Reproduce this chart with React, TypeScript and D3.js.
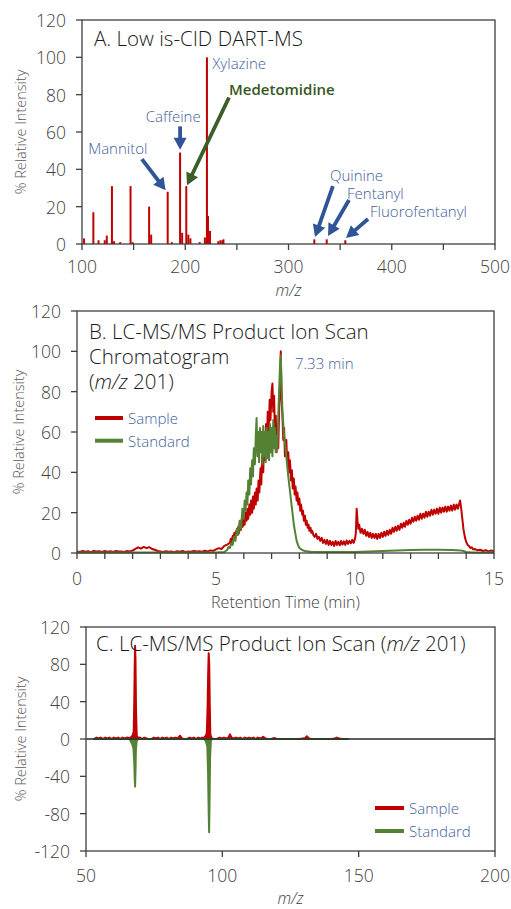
import React from 'react';
import * as d3 from 'd3';

const FONT = "'Open Sans', Lato, sans-serif";
const RED = '#C00000';
const GREEN = '#548235';
const BLUE_TXT = '#41609A';
const BLUE_ARR = '#2F5597';
const GREEN_TXT = '#375623';
const GREEN_ARR = '#3B5E29';
const AXIS = '#404040';

// ---------- Panel A: DART-MS spectrum ----------
const specMz = [102, 111, 116, 122, 124, 129, 131, 137, 147, 149, 165, 167, 183, 187, 195, 197, 201, 203, 205, 214, 219, 221, 222, 224, 232, 234, 236, 237, 325, 337, 355];
const specInt = [3, 17, 2, 2, 4.5, 31, 1.5, 1, 31, 1, 20, 5, 28, 1, 49, 6, 31, 5, 3, 1, 3.5, 100, 15, 7, 1.5, 2, 2, 2.5, 2.5, 2.5, 2];
const specXTicks = [100, 200, 300, 400, 500];
const specXMinor = [150, 250, 350, 450];
const intTicks = [0, 20, 40, 60, 80, 100, 120];

const annText = ['Xylazine', 'Caffeine', 'Mannitol', 'Medetomidine', 'Quinine', 'Fentanyl', 'Fluorofentanyl'];
const annTx = [226.2, 161.7, 106, 242.4, 340.2, 356.7, 379];
const annTy = [97.1, 68.7, 51.4, 83, 37, 27.5, 17.8];
const annFromX = [null, 195, 158, 242.4, 343, 358.6, 377];
const annFromY = [null, 63, 45.5, 78.5, 31, 23.6, 13.4];
const annToX = [null, 195, 181, 201.7, 325.7, 338.3, 355.7];
const annToY = [null, 50.5, 28.8, 31.5, 3.8, 4.3, 3.2];
const annGreen = [false, false, false, true, false, false, false];

// ---------- Panel B: chromatogram ----------
const chromSample: [number, number][] = [
  [0, 0.8], [0.1, 0.5], [0.2, 1.0], [0.3, 0.6], [0.4, 0.9], [0.5, 0.4], [0.6, 1.1], [0.7, 0.7], [0.8, 0.9], [0.9, 0.5],
  [1.0, 1.0], [1.1, 0.6], [1.2, 0.9], [1.3, 0.5], [1.4, 1.0], [1.5, 0.7], [1.6, 0.8], [1.7, 0.5], [1.8, 1.0], [1.9, 0.8],
  [2.0, 1.2], [2.1, 2.0], [2.2, 2.8], [2.3, 2.2], [2.4, 3.0], [2.5, 2.4], [2.6, 2.9], [2.7, 2.0], [2.8, 1.6], [2.9, 1.0],
  [3.0, 0.8], [3.1, 0.5], [3.2, 0.9], [3.3, 0.6], [3.4, 0.8], [3.5, 0.4], [3.6, 0.9], [3.7, 0.6], [3.8, 1.0], [3.9, 0.5],
  [4.0, 0.8], [4.1, 0.6], [4.2, 1.0], [4.3, 0.7], [4.4, 0.9], [4.5, 0.6], [4.6, 1.1], [4.7, 0.8], [4.8, 1.3], [4.9, 1.0],
  [5.0, 1.8], [5.1, 2.4], [5.2, 2.0], [5.3, 3.5], [5.4, 4.2], [5.5, 5], [5.53, 7], [5.56, 5.5], [5.6, 8.5], [5.63, 6.5],
  [5.66, 10], [5.7, 7.5], [5.73, 11], [5.76, 9], [5.8, 13], [5.83, 10], [5.86, 15], [5.9, 11.5], [5.93, 17], [5.96, 13],
  [6.0, 18], [6.03, 14], [6.06, 20], [6.1, 16], [6.13, 22], [6.16, 17], [6.2, 24], [6.23, 19], [6.26, 26], [6.3, 20],
  [6.33, 28], [6.36, 22], [6.4, 30], [6.43, 24], [6.46, 32], [6.5, 26], [6.53, 36], [6.56, 30], [6.6, 42], [6.63, 34],
  [6.66, 48], [6.7, 40], [6.73, 56], [6.76, 46], [6.8, 64], [6.83, 54], [6.86, 70], [6.9, 60], [6.93, 76], [6.96, 66],
  [7.0, 80], [7.03, 84], [7.06, 70], [7.09, 78], [7.12, 58], [7.15, 68], [7.18, 50], [7.21, 62], [7.24, 52], [7.27, 70],
  [7.3, 82], [7.33, 100], [7.36, 76], [7.39, 68], [7.42, 56], [7.45, 62], [7.48, 48], [7.5, 50], [7.53, 56], [7.56, 44],
  [7.6, 50], [7.63, 40], [7.66, 46], [7.7, 36], [7.73, 41], [7.76, 32], [7.8, 37], [7.83, 29], [7.86, 33], [7.9, 26],
  [7.93, 30], [7.96, 24], [8.0, 27], [8.03, 21], [8.06, 24], [8.1, 19], [8.13, 21], [8.16, 16], [8.2, 18.5], [8.23, 14],
  [8.26, 16], [8.3, 12.5], [8.33, 14], [8.36, 11], [8.4, 12.5], [8.43, 10], [8.46, 11], [8.5, 9], [8.55, 8], [8.6, 9.5],
  [8.65, 7], [8.7, 8], [8.75, 6], [8.8, 7.5], [8.85, 5], [8.9, 6.5], [8.95, 4.5], [9.0, 6.5], [9.05, 4], [9.1, 6],
  [9.15, 4], [9.2, 5.5], [9.25, 3.5], [9.3, 6], [9.35, 4], [9.4, 5.5], [9.45, 3.8], [9.5, 6], [9.55, 4.2], [9.6, 5.8],
  [9.65, 4], [9.7, 6.2], [9.75, 4.5], [9.8, 6], [9.85, 4.8], [9.9, 6.5], [9.95, 5], [10.0, 7], [10.03, 10], [10.06, 22],
  [10.09, 16], [10.12, 12], [10.15, 14], [10.2, 10], [10.25, 12], [10.3, 9.5], [10.35, 11.5], [10.4, 8.5], [10.45, 10.5], [10.5, 8],
  [10.55, 10], [10.6, 7.5], [10.65, 9.5], [10.7, 7.5], [10.75, 9.5], [10.8, 7], [10.85, 9.5], [10.9, 7.5], [10.95, 10], [11.0, 8],
  [11.05, 10.5], [11.1, 8.5], [11.15, 11], [11.2, 9], [11.25, 11.5], [11.3, 9.5], [11.35, 12.5], [11.4, 10.5], [11.45, 13], [11.5, 11],
  [11.55, 13.5], [11.6, 11.5], [11.65, 14.5], [11.7, 12.5], [11.75, 15], [11.8, 13], [11.85, 16], [11.9, 14], [11.95, 16.5], [12.0, 14.5],
  [12.05, 17.5], [12.1, 15.5], [12.15, 18], [12.2, 16], [12.25, 18.5], [12.3, 16.5], [12.35, 19.5], [12.4, 17], [12.45, 19.5], [12.5, 17.5],
  [12.55, 20.5], [12.6, 18], [12.65, 20.5], [12.7, 18.5], [12.75, 21.5], [12.8, 19], [12.85, 21.5], [12.9, 19.5], [12.95, 22], [13.0, 19.5],
  [13.05, 22.5], [13.1, 20], [13.15, 22.5], [13.2, 20.5], [13.25, 23], [13.3, 20.5], [13.35, 23], [13.4, 21], [13.45, 23.5], [13.5, 21],
  [13.55, 24], [13.6, 21.5], [13.65, 24], [13.7, 22], [13.75, 24.5], [13.78, 26], [13.82, 22], [13.86, 17], [13.9, 12], [13.95, 8],
  [14.0, 5.5], [14.05, 4], [14.1, 3.5], [14.15, 2.5], [14.2, 2.8], [14.25, 1.8], [14.3, 2], [14.4, 1.4], [14.5, 1.6], [14.6, 1],
  [14.7, 1.4], [14.8, 0.8], [14.9, 1.2], [15, 0.8],
];
const chromStandard: [number, number][] = [
  [0, 0.3], [1, 0.3], [2, 0.2], [3, 0.3], [4, 0.2], [5, 0.3], [5.3, 0.5], [5.4, 1.5], [5.45, 3], [5.5, 2.5],
  [5.55, 5], [5.6, 4], [5.65, 8], [5.7, 6], [5.75, 12], [5.8, 9], [5.85, 16], [5.9, 12], [5.95, 22], [6.0, 17],
  [6.03, 26], [6.06, 21], [6.1, 30], [6.13, 24], [6.16, 36], [6.2, 29], [6.23, 42], [6.26, 34], [6.3, 46], [6.33, 38],
  [6.36, 52], [6.4, 44], [6.43, 58], [6.46, 67], [6.49, 48], [6.52, 60], [6.55, 45], [6.58, 62], [6.61, 50], [6.64, 60],
  [6.67, 44], [6.7, 63], [6.73, 48], [6.76, 60], [6.79, 45], [6.82, 62], [6.85, 47], [6.88, 60], [6.91, 46], [6.94, 64],
  [6.97, 50], [7.0, 62], [7.03, 48], [7.06, 66], [7.09, 52], [7.12, 62], [7.15, 50], [7.18, 58], [7.21, 52], [7.24, 68],
  [7.27, 80], [7.3, 92], [7.33, 98], [7.36, 82], [7.39, 70], [7.42, 64], [7.45, 58], [7.5, 52], [7.55, 45], [7.6, 38],
  [7.65, 32], [7.7, 26], [7.75, 20], [7.8, 14], [7.85, 10], [7.9, 6], [7.95, 4], [8.0, 2.5], [8.1, 1.5], [8.2, 1],
  [8.4, 0.6], [9, 0.5], [10, 0.5], [10.5, 0.8], [11, 1.0], [11.5, 1.3], [12, 1.5], [12.5, 1.6], [13, 1.6], [13.5, 1.5],
  [13.8, 1.3], [13.9, 1.0], [14.0, 0.5], [14.2, 0.3], [15, 0.2],
];
const rtMajor = [0, 5, 10, 15];
const rtMinor = [1, 2, 3, 4, 6, 7, 8, 9, 11, 12, 13, 14];

// ---------- Panel C: product ion spectrum ----------
const prodSample: [number, number][] = [
  [53, 0], [53.8, 1.5], [54.6, 0.5], [55.4, 1.5], [56.2, 0], [57, 1.5], [57.8, 0.5], [58.6, 1.5], [59.4, 0], [60.2, 1.5],
  [61, 0.5], [61.8, 1.5], [62.6, 0], [63.4, 1.5], [64.2, 0.5], [65, 1.5], [65.8, 1], [66.6, 2], [67.1, 4], [67.5, 8],
  [67.7, 40], [67.85, 75], [68, 100], [68.15, 85], [68.35, 30], [68.6, 4], [69, 1], [69.8, 1.5], [70.6, 0], [71.4, 1.5],
  [72.2, 0.5], [73, 0], [74, 0], [74.8, 1.5], [75.6, 0.5], [76.4, 1.5], [77.2, 0], [78, 1.5], [78.8, 0.5], [79.6, 1.5],
  [80.4, 0], [81.2, 1.5], [82, 0.5], [82.8, 1.5], [83.6, 0.5], [84.5, 3.5], [85.2, 0.5], [86, 0], [87, 0], [88, 1.5],
  [88.8, 0.5], [89.6, 1.5], [90.4, 0], [91.2, 1.5], [92, 0.5], [92.6, 1.5], [93.2, 1], [93.8, 3], [94.3, 6], [94.6, 35],
  [94.8, 70], [95, 92], [95.2, 80], [95.4, 35], [95.6, 5], [96, 1], [96.8, 0], [98, 0], [99, 1.5], [99.8, 0.5],
  [100.6, 1.5], [101.4, 0.5], [102.2, 1.5], [102.8, 5], [103.4, 1.5], [104.2, 0.5], [105, 1.5], [105.8, 0.5], [106.6, 1.5], [107.4, 0],
  [108.2, 1.5], [109, 0.5], [109.8, 1.5], [110.6, 0.5], [111.4, 1.5], [112.2, 0], [113, 1.5], [113.8, 0.5], [114.6, 1.5], [115, 2.5],
  [115.6, 1], [116.4, 0], [118, 0], [119, 1], [120, 0], [122, 0], [124, 0], [126, 0], [128, 0], [129.5, 0.5],
  [130.4, 1], [131, 3], [131.6, 1], [132.4, 0], [134, 0], [136, 0], [138, 0], [140, 0], [141.2, 0.5], [142, 1.5],
  [142.8, 0.5], [144, 0], [146, 0],
];
const prodStandard: [number, number][] = [
  [53, 0], [66, 0], [66.5, -3], [67, -6], [67.4, -10], [67.7, -25], [67.9, -45], [68, -51], [68.15, -35], [68.3, -12],
  [68.6, -2], [69, 0], [93.5, 0], [94, -3], [94.5, -8], [94.8, -40], [95, -80], [95.15, -100], [95.3, -70], [95.5, -20],
  [95.8, -2], [96.2, 0], [146, 0],
];
const prodXTicks = [50, 100, 150, 200];
const prodYTicks = [-120, -80, -40, 0, 40, 80, 120];

const legendNames = ['Sample', 'Standard'];
const legendColors = [RED, GREEN];

function Arrow({ x0, y0, x1, y1, color }: { x0: number; y0: number; x1: number; y1: number; color: string }) {
  const dx = x1 - x0, dy = y1 - y0;
  const len = Math.hypot(dx, dy);
  const ux = dx / len, uy = dy / len;
  const L = 12, hw = 6.5;
  const bx = x1 - ux * L, by = y1 - uy * L;
  const px = -uy, py = ux;
  return (
    <g>
      <line x1={x0} y1={y0} x2={bx + ux} y2={by + uy} stroke={color} strokeWidth={3.8} />
      <polygon points={`${x1},${y1} ${bx + px * hw},${by + py * hw} ${bx - px * hw},${by - py * hw}`} fill={color} />
    </g>
  );
}

function Frame({ l, r, t, b }: { l: number; r: number; t: number; b: number }) {
  return <rect x={l} y={t} width={r - l} height={b - t} fill="none" stroke={AXIS} strokeWidth={1.3} />;
}

export default function App() {
  const A = { l: 82, r: 495, t: 20, b: 244 };
  const xA = d3.scaleLinear().domain([100, 500]).range([A.l, A.r]);
  const yA = d3.scaleLinear().domain([0, 120]).range([A.b, A.t]);

  const B = { l: 77, r: 494, t: 311, b: 553 };
  const xB = d3.scaleLinear().domain([0, 15]).range([B.l, B.r]);
  const yB = d3.scaleLinear().domain([0, 120]).range([B.b, B.t]);
  const lineB = d3.line<[number, number]>().x(d => xB(d[0])).y(d => yB(d[1]));

  const C = { l: 86, r: 495, t: 627, b: 851 };
  const xC = d3.scaleLinear().domain([50, 200]).range([C.l, C.r]);
  const yC = d3.scaleLinear().domain([-120, 120]).range([C.b, C.t]);
  const areaC = d3.area<[number, number]>().x(d => xC(d[0])).y0(yC(0)).y1(d => yC(d[1]));

  const tickFont = { fontFamily: FONT, fontSize: 17.5, fill: AXIS, fontWeight: 300 };
  const titleFont = { fontFamily: FONT, fontSize: 20.5, fill: '#1a1a1a', fontWeight: 300 };
  const annFont = { fontFamily: FONT, fontSize: 15, fill: BLUE_TXT, fontWeight: 300 };
  const yTitle = (cx: number, cy: number) => (
    <text transform={`translate(${cx},${cy}) rotate(-90)`} textAnchor="middle" dominantBaseline="central"
      style={{ fontFamily: FONT, fontSize: 14.5, fill: '#595959', fontWeight: 300 }}>% Relative Intensity</text>
  );

  return (
    <svg width={511} height={909} style={{ position: 'absolute', left: 0, top: 0, background: '#fff' }}>
      <rect x={0} y={0} width={511} height={909} fill="#fff" />
      {/* ================= Panel A ================= */}
      {specMz.map((m, i) => (
        <line key={'b' + i} x1={xA(m)} x2={xA(m)} y1={yA(0)} y2={yA(specInt[i])} stroke={RED} strokeWidth={2} />
      ))}
      <Frame {...A} />
      {intTicks.map(v => (
        <g key={'ya' + v}>
          <line x1={A.l - 6} x2={A.l} y1={yA(v)} y2={yA(v)} stroke={AXIS} strokeWidth={1.3} />
          <text x={A.l - 16} y={yA(v)} textAnchor="end" dominantBaseline="central" style={tickFont}>{v}</text>
        </g>
      ))}
      {[...specXTicks, ...specXMinor].map(v => (
        <line key={'xa' + v} x1={xA(v)} x2={xA(v)} y1={A.b} y2={A.b + 6} stroke={AXIS} strokeWidth={1.3} />
      ))}
      {specXTicks.map(v => (
        <text key={'xl' + v} x={xA(v)} y={A.b + 29} textAnchor="middle" style={tickFont}>{v}</text>
      ))}
      <text x={(A.l + A.r) / 2} y={296} textAnchor="middle" style={{ ...tickFont, fontSize: 16, fontStyle: 'italic' }}>m/z</text>
      {yTitle(20, (A.t + A.b) / 2)}
      <text x={94} y={46} style={titleFont}>A. Low is-CID DART-MS</text>
      {annText.map((t, i) => (
        <g key={'ann' + i}>
          {annFromX[i] !== null && (
            <Arrow x0={xA(annFromX[i] as number)} y0={yA(annFromY[i] as number)} x1={xA(annToX[i] as number)} y1={yA(annToY[i] as number)}
              color={annGreen[i] ? GREEN_ARR : BLUE_ARR} />
          )}
          <text x={xA(annTx[i])} y={yA(annTy[i])} dominantBaseline="central"
            style={{ ...annFont, fill: annGreen[i] ? GREEN_TXT : BLUE_TXT, fontWeight: annGreen[i] ? 600 : 300 }}>{t}</text>
        </g>
      ))}

      {/* ================= Panel B ================= */}
      <path d={lineB(chromSample) || ''} fill="none" stroke={RED} strokeWidth={2} strokeLinejoin="round" />
      <path d={lineB(chromStandard) || ''} fill="none" stroke={GREEN} strokeWidth={2} strokeLinejoin="round" />
      <Frame {...B} />
      {intTicks.map(v => (
        <g key={'yb' + v}>
          <line x1={B.l - 6} x2={B.l} y1={yB(v)} y2={yB(v)} stroke={AXIS} strokeWidth={1.3} />
          <text x={B.l - 16} y={yB(v)} textAnchor="end" dominantBaseline="central" style={tickFont}>{v}</text>
        </g>
      ))}
      {[...rtMajor, ...rtMinor].map(v => (
        <line key={'xb' + v} x1={xB(v)} x2={xB(v)} y1={B.b} y2={B.b + 6} stroke={AXIS} strokeWidth={1.3} />
      ))}
      {rtMajor.map(v => (
        <text key={'xbl' + v} x={xB(v)} y={B.b + 32} textAnchor="middle" style={tickFont}>{v}</text>
      ))}
      <text x={(B.l + B.r) / 2} y={608} textAnchor="middle" style={{ ...tickFont, fontSize: 16 }}>Retention Time (min)</text>
      {yTitle(18, (B.t + B.b) / 2)}
      <text x={89} y={339} style={titleFont}>B. LC-MS/MS Product Ion Scan</text>
      <text x={89} y={364} style={titleFont}>Chromatogram</text>
      <text x={89} y={389} style={titleFont}>(<tspan fontStyle="italic">m/z</tspan> 201)</text>
      <text x={xB(7.84)} y={yB(94.2)} dominantBaseline="central" style={annFont}>7.33 min</text>
      {legendNames.map((n, i) => (
        <g key={'lb' + i}>
          <line x1={95} x2={123} y1={418 + i * 22.7} y2={418 + i * 22.7} stroke={legendColors[i]} strokeWidth={4} />
          <text x={128} y={418 + i * 22.7} dominantBaseline="central" style={annFont}>{n}</text>
        </g>
      ))}

      {/* ================= Panel C ================= */}
      <path d={areaC(prodSample) || ''} fill={RED} stroke={RED} strokeWidth={2} strokeLinejoin="round" />
      <path d={areaC(prodStandard) || ''} fill={GREEN} stroke={GREEN} strokeWidth={2} strokeLinejoin="round" />
      <line x1={C.l} x2={C.r} y1={yC(0)} y2={yC(0)} stroke="#262626" strokeWidth={1.3} />
      <Frame {...C} />
      {prodYTicks.map(v => (
        <g key={'yc' + v}>
          <line x1={C.l - 6} x2={C.l} y1={yC(v)} y2={yC(v)} stroke={AXIS} strokeWidth={1.3} />
          <text x={C.l - 16} y={yC(v)} textAnchor="end" dominantBaseline="central" style={tickFont}>{v}</text>
        </g>
      ))}
      {prodXTicks.map(v => (
        <g key={'xc' + v}>
          <line x1={xC(v)} x2={xC(v)} y1={C.b} y2={C.b + 6} stroke={AXIS} strokeWidth={1.3} />
          <text x={xC(v)} y={C.b + 31} textAnchor="middle" style={tickFont}>{v}</text>
        </g>
      ))}
      <text x={(C.l + C.r) / 2} y={904} textAnchor="middle" style={{ ...tickFont, fontSize: 16, fontStyle: 'italic' }}>m/z</text>
      {yTitle(20, (C.t + C.b) / 2)}
      <text x={96} y={651} style={titleFont}>C. LC-MS/MS Product Ion Scan (<tspan fontStyle="italic">m/z</tspan> 201)</text>
      {legendNames.map((n, i) => (
        <g key={'lc' + i}>
          <line x1={375} x2={404} y1={808 + i * 23} y2={808 + i * 23} stroke={legendColors[i]} strokeWidth={4} />
          <text x={409} y={808 + i * 23} dominantBaseline="central" style={annFont}>{n}</text>
        </g>
      ))}
    </svg>
  );
}
